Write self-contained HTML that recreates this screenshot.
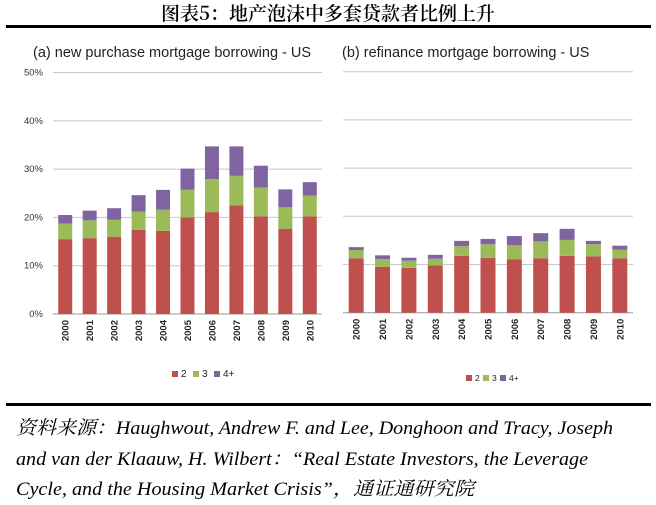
<!DOCTYPE html>
<html><head><meta charset="utf-8"><style>
body{margin:0;background:#fff;}
svg{display:block;}
</style></head><body>
<svg width="656" height="505" xmlns="http://www.w3.org/2000/svg">
<text x="328" y="20" text-anchor="middle" font-family="'Noto Serif CJK SC',serif" font-size="19" font-weight="600" fill="#000">图表5：地产泡沫中多套贷款者比例上升</text>
<rect x="6" y="25" width="645" height="3" fill="#000"/>
<g id="chartA"></g>
<g id="chartB"></g>
<rect x="6" y="403" width="645" height="3" fill="#000"/>
<g font-family="'Liberation Serif','Noto Serif CJK SC',serif" font-style="italic" font-size="19" fill="#000">
<text x="16" y="434" textLength="597" lengthAdjust="spacingAndGlyphs">资料来源：Haughwout, Andrew F. and Lee, Donghoon and Tracy, Joseph</text>
<text x="16" y="465" textLength="572" lengthAdjust="spacingAndGlyphs">and van der Klaauw, H. Wilbert：“Real Estate Investors, the Leverage</text>
<text x="16" y="495" textLength="458" lengthAdjust="spacingAndGlyphs">Cycle, and the Housing Market Crisis”，通证通研究院</text>
</g>
</svg>
<script>
const years = ['2000','2001','2002','2003','2004','2005','2006','2007','2008','2009','2010'];
const yTicks = [0,10,20,30,40,50];
const seriesNames = ['2','3','4+'];
const newTwo   = [15.5,15.7,16.0,17.4,17.2,20.0,21.1,22.5,20.2,17.6,20.2];
const newThree = [3.2,3.7,3.5,3.8,4.4,5.7,6.8,6.1,6.0,4.5,4.3];
const newFour  = [1.8,2.0,2.4,3.4,4.1,4.4,6.8,6.1,4.5,3.7,2.8];
const refiTwo   = [11.3,9.5,9.3,9.8,11.8,11.4,11.1,11.3,11.8,11.7,11.3];
const refiThree = [1.7,1.6,1.5,1.4,2.0,2.8,2.9,3.5,3.3,2.5,1.8];
const refiFour  = [0.6,0.8,0.6,0.8,1.1,1.1,1.9,1.7,2.3,0.7,0.8];
const colors = ['#c0504d','#9bbb59','#8064a2'];
const NS='http://www.w3.org/2000/svg';
function mk(parent,tag,attrs,text){const e=document.createElementNS(NS,tag);for(const k in attrs)e.setAttribute(k,attrs[k]);if(text!==undefined)e.textContent=text;parent.appendChild(e);return e;}
function draw(g,cfg){
  const y=v=>cfg.y0-(v/50)*(cfg.y0-cfg.y50);
  mk(g,'text',{x:cfg.titleX,y:57,'font-family':'Liberation Sans, sans-serif','font-size':14.5,fill:'#222'},cfg.title);
  yTicks.forEach(t=>{
    const l=mk(g,'line',{x1:cfg.x0,x2:cfg.x1,y1:y(t),y2:y(t),stroke:t===0?'#999':'#c8c8c8','stroke-width':1});
    
    
    if(cfg.labels){
      const tx=mk(g,'text',{x:cfg.x0-10,y:y(t)+3,'text-anchor':'end','font-family':'Liberation Sans, sans-serif','font-size':9.5,fill:'#333'},t+'%');
      
      
    }
  });
  const step=(cfg.x1-cfg.x0)/years.length;
  years.forEach((yr,i)=>{
    const cx=cfg.x0+step*(i+0.5);
    let base=0;
    cfg.series.forEach((s,k)=>{
      const v=s[i];
      const r=mk(g,'rect',{x:cx-cfg.bw/2,y:y(base+v),width:cfg.bw,height:y(base)-y(base+v),fill:colors[k]});
      
      
      base+=v;
    });
    const t=mk(g,'text',{x:0,y:0,transform:`translate(${cx+3.5},${cfg.y0+6}) rotate(-90)`,'text-anchor':'end','font-family':'Liberation Sans, sans-serif','font-size':9.5,'font-weight':'bold',fill:'#222'},yr);
    
    
  });
  let lx=cfg.legX;
  seriesNames.forEach((n,k)=>{
    const r=mk(g,'rect',{x:lx,y:cfg.legY-6,width:6,height:6,fill:colors[k]});
    
    
    const t=mk(g,'text',{x:lx+9,y:cfg.legY,'font-family':'Liberation Sans, sans-serif','font-size':cfg.legFs,fill:'#222'},n);
    
    
    lx+=cfg.legGap;
  });
}
draw(document.getElementById('chartA'),{title:'(a) new purchase mortgage borrowing - US',titleX:33,x0:53,x1:322,y0:314,y50:72.5,bw:14,labels:true,series:[newTwo,newThree,newFour],legX:172,legY:377,legFs:10,legGap:21});
draw(document.getElementById('chartB'),{title:'(b) refinance mortgage borrowing - US',titleX:342,x0:343,x1:633,y0:312.7,y50:71.7,bw:15,labels:false,series:[refiTwo,refiThree,refiFour],legX:466,legY:381,legFs:8.5,legGap:17});
</script>
</body></html>
